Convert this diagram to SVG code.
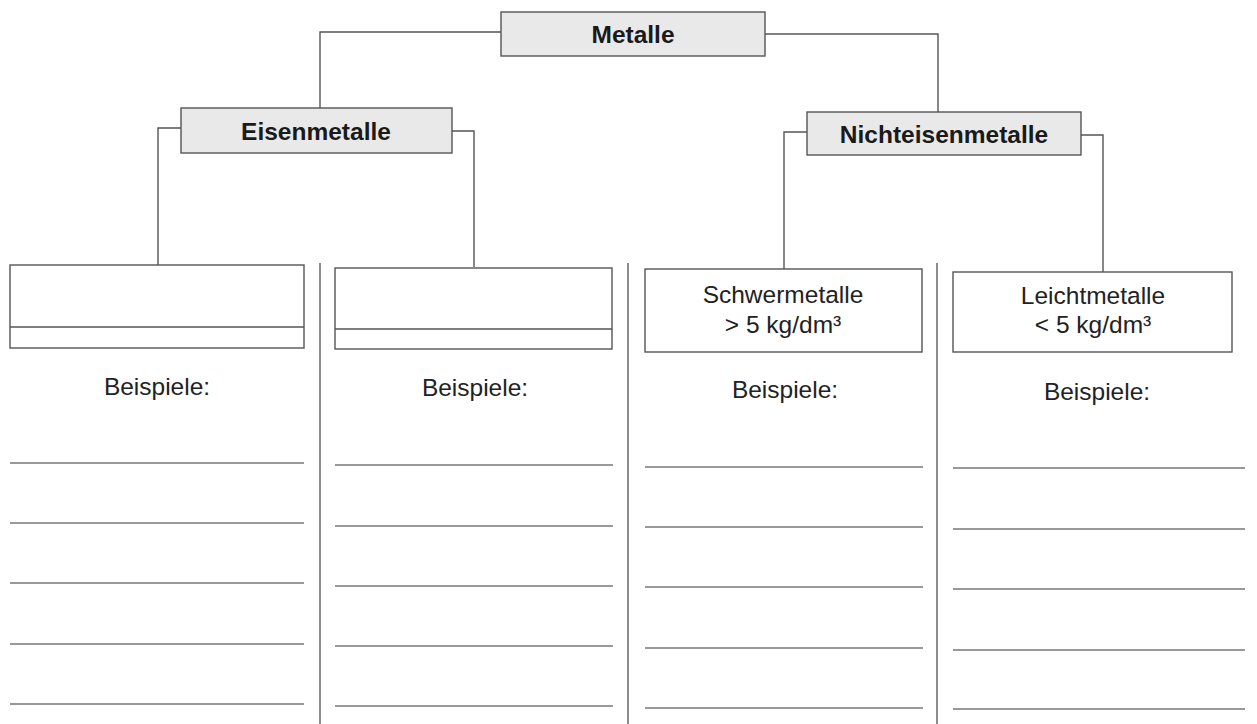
<svg xmlns="http://www.w3.org/2000/svg" width="1257" height="724" viewBox="0 0 1257 724">
<style>
.hdr{fill:#e9e9e9;stroke:#555;stroke-width:1.4}
.box{fill:#fff;stroke:#555;stroke-width:1.4}
.con{fill:none;stroke:#555;stroke-width:1.4}
.div{stroke:#666;stroke-width:1.5}
.ln{stroke:#777;stroke-width:1.6}
.tb{font-family:"Liberation Sans",Arial,sans-serif;font-weight:bold;font-size:24.5px;fill:#1a1a1a;text-anchor:middle}
.tr{font-family:"Liberation Sans",Arial,sans-serif;font-size:24.5px;fill:#222;text-anchor:middle}
</style>
<rect width="1257" height="724" fill="#fff"/>
<g id="connectors">
<polyline class="con" points="501,32 320,32 320,108"/>
<polyline class="con" points="765,34 938,34 938,112"/>
<polyline class="con" points="181,128 158,128 158,265"/>
<polyline class="con" points="452,131 474,131 474,267"/>
<polyline class="con" points="807,132 784,132 784,269"/>
<polyline class="con" points="1081,135 1103,135 1103,272"/>
</g>
<g id="metalle">
<rect class="hdr" x="501" y="12" width="264" height="44"/>
<text class="tb" x="633" y="43">Metalle</text>
</g>
<g id="eisenmetalle">
<rect class="hdr" x="181" y="108" width="271" height="45"/>
<text class="tb" x="316" y="140">Eisenmetalle</text>
</g>
<g id="nichteisenmetalle">
<rect class="hdr" x="807" y="112" width="274" height="43"/>
<text class="tb" x="944" y="143">Nichteisenmetalle</text>
</g>
<g id="dividers">
<line class="div" x1="320" y1="263" x2="320" y2="724"/>
<line class="div" x1="628" y1="263" x2="628" y2="724"/>
<line class="div" x1="937" y1="263" x2="937" y2="724"/>
</g>
<g id="box1">
<rect class="box" x="10" y="265" width="294" height="83"/>
<line class="con" x1="10" y1="327" x2="304" y2="327"/>
<text class="tr" x="157" y="395">Beispiele:</text>
<g class="ln"><line x1="10" y1="463" x2="304" y2="463"/><line x1="10" y1="523" x2="304" y2="523"/><line x1="10" y1="583" x2="304" y2="583"/><line x1="10" y1="644" x2="304" y2="644"/><line x1="10" y1="704" x2="304" y2="704"/></g>
</g>
<g id="box2">
<rect class="box" x="335" y="268" width="277" height="81"/>
<line class="con" x1="335" y1="329" x2="612" y2="329"/>
<text class="tr" x="475" y="396">Beispiele:</text>
<g class="ln"><line x1="335" y1="465" x2="613" y2="465"/><line x1="335" y1="526" x2="613" y2="526"/><line x1="335" y1="586" x2="613" y2="586"/><line x1="335" y1="646" x2="613" y2="646"/><line x1="335" y1="706" x2="613" y2="706"/></g>
</g>
<g id="schwermetalle">
<rect class="box" x="645" y="269" width="277" height="83"/>
<text class="tr" x="783" y="303">Schwermetalle</text>
<text class="tr" x="783" y="333">&gt; 5 kg/dm³</text>
<text class="tr" x="785" y="398">Beispiele:</text>
<g class="ln"><line x1="645" y1="467" x2="923" y2="467"/><line x1="645" y1="527" x2="923" y2="527"/><line x1="645" y1="587" x2="923" y2="587"/><line x1="645" y1="648" x2="923" y2="648"/><line x1="645" y1="708" x2="923" y2="708"/></g>
</g>
<g id="leichtmetalle">
<rect class="box" x="953" y="272" width="279" height="80"/>
<text class="tr" x="1093" y="304">Leichtmetalle</text>
<text class="tr" x="1093" y="333">&lt; 5 kg/dm³</text>
<text class="tr" x="1097" y="400">Beispiele:</text>
<g class="ln"><line x1="953" y1="468" x2="1245" y2="468"/><line x1="953" y1="529" x2="1245" y2="529"/><line x1="953" y1="589" x2="1245" y2="589"/><line x1="953" y1="650" x2="1245" y2="650"/><line x1="953" y1="709" x2="1245" y2="709"/></g>
</g>
</svg>
